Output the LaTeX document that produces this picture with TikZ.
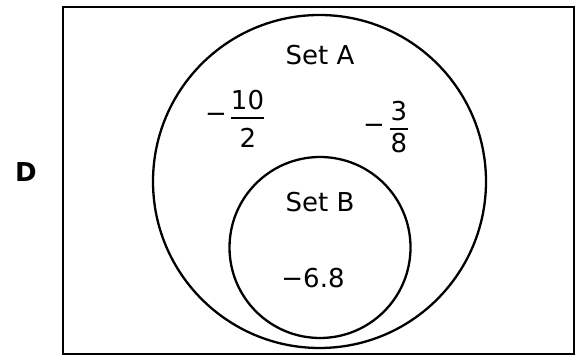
\documentclass[tikz,border=0pt]{standalone}
\usepackage{fontspec}
\setmainfont{DejaVu Sans}
\usetikzlibrary{positioning}
\tikzset{
  setline/.style={draw=black, line width=1.15pt},
  setcircle/.style={setline, circle, inner sep=0pt},
  lbl/.style={font=\fontsize{13}{15}\selectfont, inner sep=0pt},
  fracbar/.style={draw=black, line width=1pt},
}

\begin{document}
\begin{tikzpicture}[x=0.5pt, y=-0.5pt]
    \useasboundingbox (0,0) rectangle (576,356);

    % Universal set D
    \draw[setline] (63,7) rectangle (574,354);
    \node[lbl, font=\fontsize{13}{15}\selectfont\bfseries] (labelD) at (26,172) {D};

    % Set circles
    \node[setcircle, minimum size=166.5pt] (setA) at (319.5,181.5) {};
    \node[setcircle, minimum size=90.5pt] (setB) at (320,247.5) {};

    % Labels
    \node[lbl] (nameA) at (320,55.5) {Set A};
    \node[lbl] (nameB) at (320,202) {Set B};

    % Element -10/2
    \node[lbl] (tenMinus) at (216,118) {−};
    \node[lbl] (tenNum) at (247.5,100.5) {10};
    \node[lbl] (tenDen) at (248,138) {2};
    \draw[fracbar] (231,118) -- (264,118);

    % Element -3/8
    \node[lbl] (threeMinus) at (374,129) {−};
    \node[lbl] (threeNum) at (399,111) {3};
    \node[lbl] (threeDen) at (399,143) {8};
    \draw[fracbar] (390,129) -- (408,129);

    % Element in B
    \node[lbl] (sixEight) at (313,278) {−6.8};
\end{tikzpicture}
\end{document}
